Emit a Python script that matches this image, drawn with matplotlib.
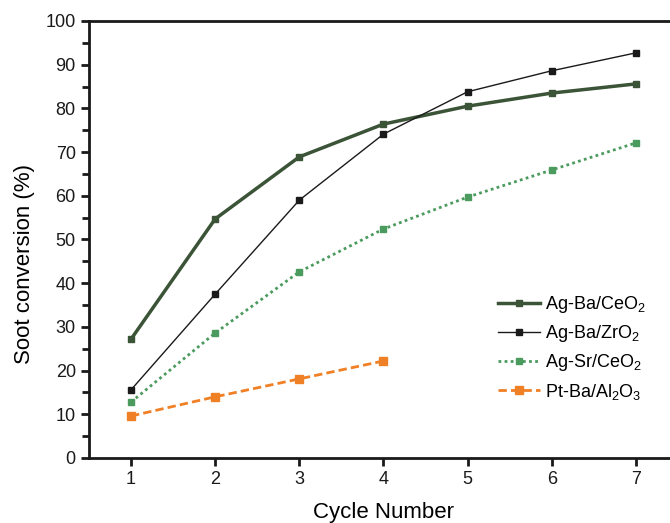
import matplotlib
matplotlib.use("Agg")
import matplotlib.pyplot as plt
from matplotlib.ticker import MultipleLocator

plt.rcParams['font.family'] = ['Liberation Sans', 'DejaVu Sans']
plt.rcParams['mathtext.fontset'] = 'custom'
plt.rcParams['mathtext.rm'] = 'Liberation Sans'

cycles = [1, 2, 3, 4, 5, 6, 7]
ag_ba_ceo2 = [27.2, 54.7, 68.9, 76.4, 80.5, 83.5, 85.6]
ag_ba_zro2 = [15.6, 37.5, 59.0, 74.1, 83.8, 88.6, 92.7]
ag_sr_ceo2 = [12.8, 28.6, 42.6, 52.4, 59.7, 65.9, 72.1]
pt_cycles = [1, 2, 3, 4]
pt_ba_al2o3 = [9.6, 14.0, 18.1, 22.2]

fig = plt.figure(figsize=(6.7, 5.23), dpi=100)
ax = fig.add_axes([0.1328, 0.1243, 0.879, 0.8356])

ax.plot(cycles, ag_ba_ceo2, color='#3b5336', lw=2.5, marker='s', ms=5,
        label='Ag-Ba/CeO$_\\mathregular{2}$')
ax.plot(cycles, ag_ba_zro2, color='#1a1a1a', lw=1.0, marker='s', ms=5,
        label='Ag-Ba/ZrO$_\\mathregular{2}$')
ax.plot(cycles, ag_sr_ceo2, color='#4b9a5e', lw=2.0, ls=(0, (1, 1.2)), marker='s', ms=5,
        label='Ag-Sr/CeO$_\\mathregular{2}$')
ax.plot(pt_cycles, pt_ba_al2o3, color='#f08025', lw=2.0, ls=(0, (3, 1.5)), marker='s', ms=5.5,
        label='Pt-Ba/Al$_\\mathregular{2}$O$_\\mathregular{3}$')

ax.set_xlim(0.5, 7.5)
ax.set_ylim(0, 100)
ax.set_xticks(cycles)
ax.yaxis.set_major_locator(MultipleLocator(10))
ax.yaxis.set_minor_locator(MultipleLocator(5))
ax.tick_params(axis='both', which='both', direction='out', width=2, labelsize=13, colors='#1a1a1a')
ax.tick_params(axis='both', which='major', length=6)
ax.tick_params(axis='y', which='minor', length=5)
for sp in ax.spines.values():
    sp.set_linewidth(2)
    sp.set_color('#1a1a1a')
ax.spines['right'].set_visible(False)

ax.set_xlabel('Cycle Number', fontsize=16, labelpad=10)
ax.set_ylabel('Soot conversion (%)', fontsize=16)
ax.yaxis.set_label_coords(-0.092, 0.445)

leg = ax.legend(loc='center left', bbox_to_anchor=(0.68, 0.252), frameon=False, fontsize=13,
                handlelength=2.3, labelspacing=0.45, handletextpad=0.25, borderpad=0)

fig.savefig('out.png', dpi=100)
